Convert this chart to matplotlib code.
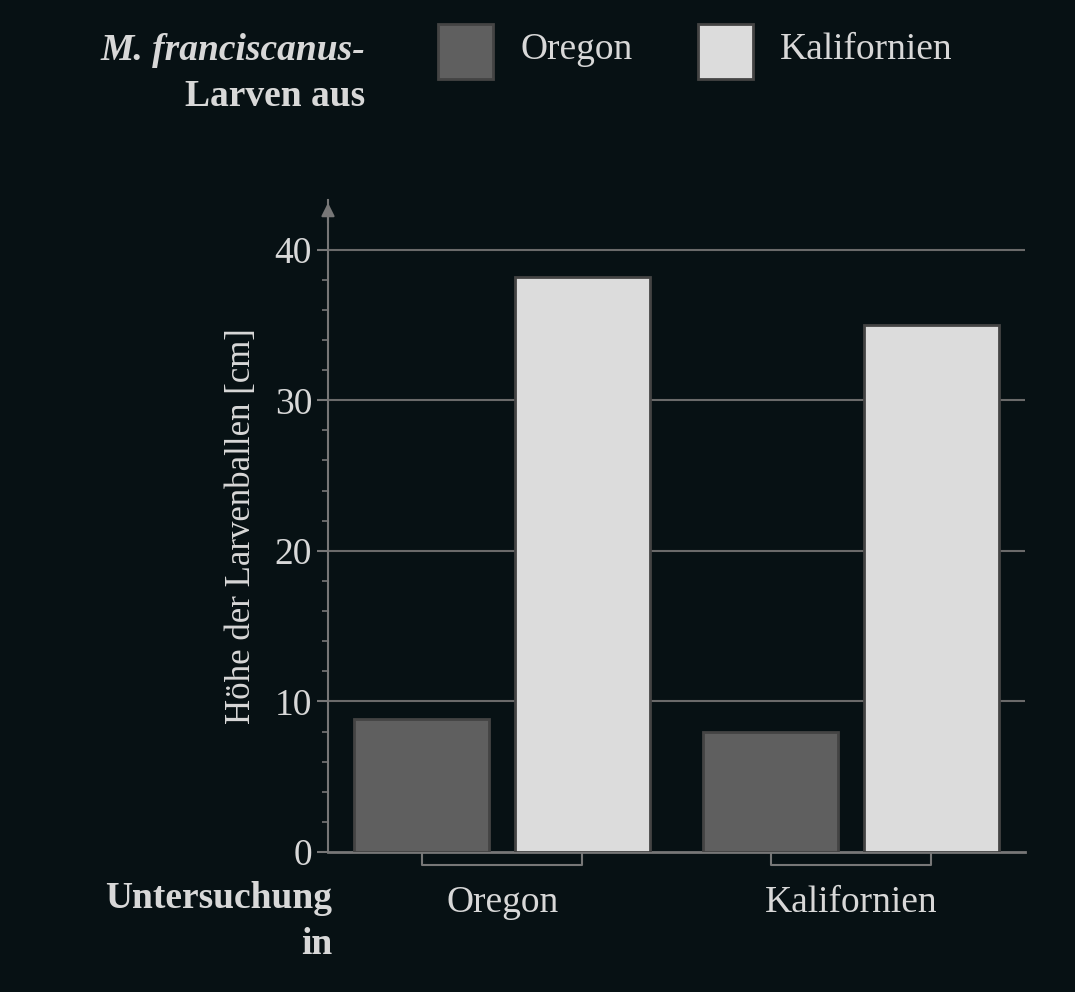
import matplotlib
matplotlib.use("Agg")
import matplotlib.pyplot as plt
from matplotlib.patches import Rectangle
import matplotlib.transforms as mt

sites = ["Oregon", "Kalifornien"]
origins = ["Oregon", "Kalifornien"]
values = {"Oregon": [8.8, 8.0], "Kalifornien": [38.2, 35.0]}
colors = {"Oregon": "#5f5f5f", "Kalifornien": "#dcdcdc"}

bg = "#071114"
fg = "#d8d8d8"
plt.rcParams['font.family'] = ['Liberation Serif', 'DejaVu Serif']

fig = plt.figure(figsize=(10.75, 9.92), dpi=100, facecolor=bg)
ax = fig.add_axes([328/1075, 140/992, 697/1075, 652/992], facecolor=bg)
ax.set_xlim(-0.5, 1.5)
ax.set_ylim(0, 43.3)

w = 0.387
off = 0.231
for i, o in enumerate(origins):
    xs = [g + (-off if i == 0 else off) for g in range(len(sites))]
    ax.bar(xs, values[o], width=w, color=colors[o], edgecolor="#444444", linewidth=2, zorder=3)

for y in [10, 20, 30, 40]:
    ax.axhline(y, color="#6a6a6a", lw=1.5, zorder=1)

for s in ["top", "right"]:
    ax.spines[s].set_visible(False)
ax.spines["left"].set_color("#777777")
ax.spines["bottom"].set_color("#777777")
ax.spines["left"].set_linewidth(1.5)
ax.spines["bottom"].set_linewidth(2)
ax.annotate("", xy=(0, 1.0), xytext=(0, 0.96), xycoords="axes fraction",
            arrowprops=dict(arrowstyle="-|>", color="#777777", lw=1.5, mutation_scale=20))

ax.set_yticks([0, 10, 20, 30, 40])
ax.set_yticks(range(0, 42, 2), minor=True)
ax.tick_params(axis="y", which="major", colors="#777777", labelcolor=fg, labelsize=27, length=8, width=1.5)
ax.tick_params(axis="y", which="minor", colors="#777777", length=4, width=1.2)
ax.set_xticks(range(len(sites)))
ax.set_xticklabels(sites)
ax.tick_params(axis="x", length=0, labelsize=27, labelcolor=fg, pad=24)
ax.set_ylabel("Höhe der Larvenballen [cm]", color=fg, fontsize=25, labelpad=12)

trans = mt.blended_transform_factory(ax.transData, ax.transAxes)
for g in range(len(sites)):
    ax.plot([g - 0.229, g - 0.229, g + 0.229, g + 0.229], [0, -0.02, -0.02, 0],
            transform=trans, color="#777777", lw=1.5, clip_on=False)

fig.text(365/1075, 1 - 50/992, "M. franciscanus-", ha="right", va="center",
         fontsize=27, fontweight="bold", fontstyle="italic", color=fg)
fig.text(365/1075, 1 - 97/992, "Larven aus", ha="right", va="center",
         fontsize=27, fontweight="bold", color=fg)
for x0, o in [(438, "Oregon"), (698, "Kalifornien")]:
    fig.patches.append(Rectangle((x0/1075, 1 - 79/992), 55/1075, 55/992, transform=fig.transFigure,
                                 facecolor=colors[o], edgecolor="#444444", lw=2))
    fig.text((x0 + 82)/1075, 1 - 50/992, o, ha="left", va="center", fontsize=27, color=fg)

fig.text(332/1075, 1 - 898/992, "Untersuchung", ha="right", va="center",
         fontsize=27, fontweight="bold", color=fg)
fig.text(332/1075, 1 - 945/992, "in", ha="right", va="center",
         fontsize=27, fontweight="bold", color=fg)

fig.savefig("out.png", facecolor=bg)
